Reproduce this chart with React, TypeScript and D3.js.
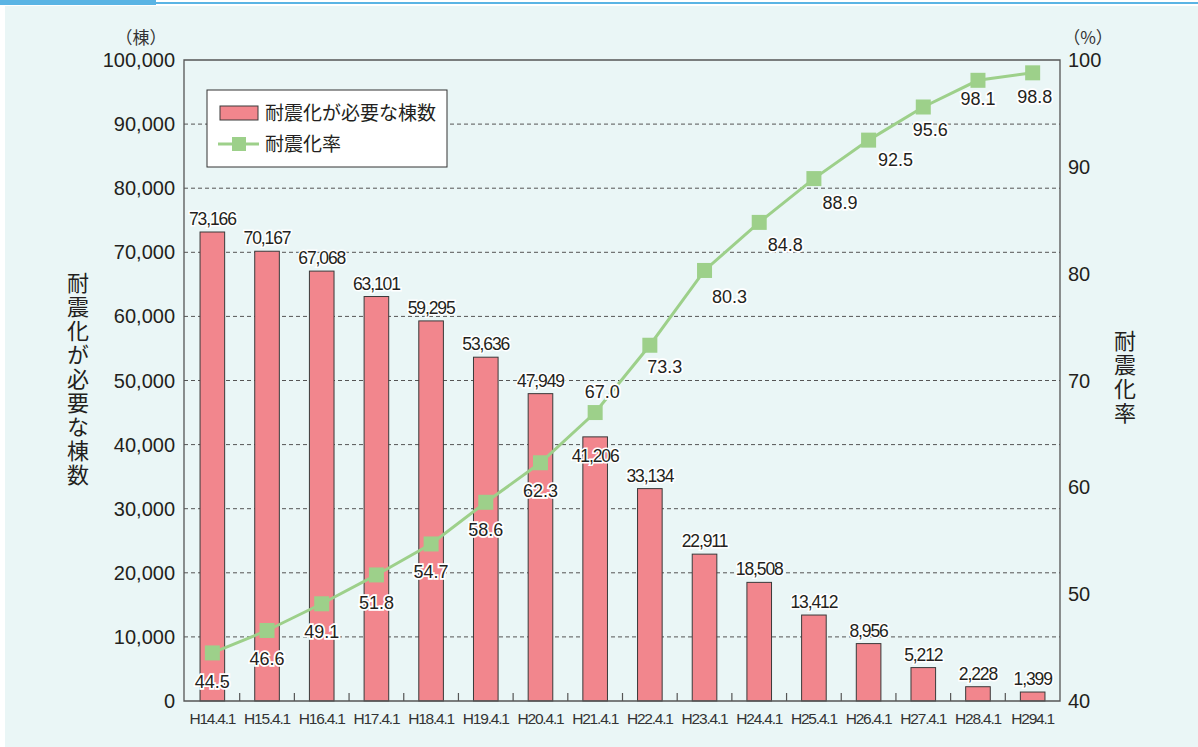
import { useEffect, useRef } from 'react';
import * as d3 from 'd3';

const categories = [
  'H14.4.1', 'H15.4.1', 'H16.4.1', 'H17.4.1', 'H18.4.1', 'H19.4.1', 'H20.4.1', 'H21.4.1',
  'H22.4.1', 'H23.4.1', 'H24.4.1', 'H25.4.1', 'H26.4.1', 'H27.4.1', 'H28.4.1', 'H294.1',
];
const buildingsNeeded = [
  73166, 70167, 67068, 63101, 59295, 53636, 47949, 41206,
  33134, 22911, 18508, 13412, 8956, 5212, 2228, 1399,
];
const seismicRate = [
  44.5, 46.6, 49.1, 51.8, 54.7, 58.6, 62.3, 67.0,
  73.3, 80.3, 84.8, 88.9, 92.5, 95.6, 98.1, 98.8,
];
const leftTicks = [0, 10000, 20000, 30000, 40000, 50000, 60000, 70000, 80000, 90000, 100000];
const rightTicks = [40, 50, 60, 70, 80, 90, 100];

// label nudges (px)
const rateLabelDx = [0, 0, 0, 0, 0, 0, 0, 7, 15, 25, 26, 26, 27, 7, 0, 2];
const rateLabelDy = [29, 29, 28, 28, 28, 28, 28, -21, 22, 27, 23, 24, 20, 23, 19, 24];
const barLabelDy = [-7, -7, -7, -7, -7, -7, -7, 25, -7, -7, -7, -7, -7, -7, -7, -7];

const NUM_FONT = '"Liberation Sans", Arial, sans-serif';
const JP_FONT = '"Noto Sans CJK JP", "Noto Sans", sans-serif';

export default function App() {
  const svgRef = useRef<SVGSVGElement>(null);

  useEffect(() => {
    document.body.style.margin = '0';
    if (!svgRef.current) return;
    const svg = d3.select(svgRef.current);
    svg.selectAll('*').remove();

    const W = 1198;
    const H = 747;
    const left = 184, right = 1060, top = 60, bottom = 701;

    // background + header strip
    svg.append('rect').attr('x', 0).attr('y', 0).attr('width', W).attr('height', H).attr('fill', '#ffffff');
    svg.append('rect').attr('x', 5).attr('y', 6).attr('width', W - 5).attr('height', H - 6).attr('fill', '#eaf6f6');
    svg.append('rect').attr('x', 0).attr('y', 2).attr('width', W).attr('height', 2).attr('fill', '#5ab4e4');
    svg.append('rect').attr('x', 0).attr('y', 0).attr('width', 156).attr('height', 5).attr('fill', '#5ab4e4');

    const x = d3.scaleBand<string>()
      .domain(categories)
      .range([left + 1, right])
      .paddingInner(0.55)
      .paddingOuter(0.275);
    const yL = d3.scaleLinear().domain([0, 100000]).range([bottom, top]);
    const yR = d3.scaleLinear().domain([40, 100]).range([bottom, top]);
    const cx = (i: number) => (x(categories[i]) || 0) + x.bandwidth() / 2;

    // dashed gridlines
    svg.append('g')
      .selectAll('line')
      .data(leftTicks.filter(t => t > 0 && t < 100000))
      .enter()
      .append('line')
      .attr('x1', left).attr('x2', right)
      .attr('y1', d => yL(d)).attr('y2', d => yL(d))
      .attr('stroke', '#555').attr('stroke-width', 1)
      .attr('stroke-dasharray', '4,3');

    // bars
    svg.append('g')
      .selectAll('rect')
      .data(buildingsNeeded)
      .enter()
      .append('rect')
      .attr('x', (_, i) => x(categories[i]) || 0)
      .attr('y', d => yL(d))
      .attr('width', x.bandwidth())
      .attr('height', d => bottom - yL(d))
      .attr('fill', '#f2868d')
      .attr('stroke', '#3a3a3a')
      .attr('stroke-width', 1);

    // frame
    svg.append('path')
      .attr('d', `M${left},${top}H${right}V${bottom}H${left}Z`)
      .attr('fill', 'none').attr('stroke', '#555').attr('stroke-width', 1.3);

    // bottom ticks at band boundaries
    const step = x.step();
    const x0 = x.range()[0];
    svg.append('g')
      .selectAll('line')
      .data(d3.range(1, categories.length))
      .enter()
      .append('line')
      .attr('x1', d => x0 + d * step).attr('x2', d => x0 + d * step)
      .attr('y1', bottom).attr('y2', bottom - 8)
      .attr('stroke', '#555').attr('stroke-width', 1.2);

    // rate line
    const line = d3.line<number>()
      .x((_, i) => cx(i))
      .y(d => yR(d));
    svg.append('path')
      .datum(seismicRate)
      .attr('d', line)
      .attr('fill', 'none')
      .attr('stroke', '#9dd08a')
      .attr('stroke-width', 3);
    const sq = 15;
    svg.append('g')
      .selectAll('rect')
      .data(seismicRate)
      .enter()
      .append('rect')
      .attr('x', (_, i) => cx(i) - sq / 2)
      .attr('y', d => yR(d) - sq / 2)
      .attr('width', sq).attr('height', sq)
      .attr('fill', '#9dd08a');

    // bar value labels
    svg.append('g')
      .selectAll('text')
      .data(buildingsNeeded)
      .enter()
      .append('text')
      .attr('x', (_, i) => cx(i))
      .attr('y', (d, i) => yL(d) + barLabelDy[i])
      .attr('text-anchor', 'middle')
      .attr('font-family', NUM_FONT)
      .attr('font-size', 17.5)
      .attr('letter-spacing', -1.1)
      .attr('fill', '#231f20')
      .attr('stroke', '#fff').attr('stroke-width', 3).attr('paint-order', 'stroke')
      .text(d => d3.format(',')(d));

    svg.append('g')
      .selectAll('text')
      .data(seismicRate)
      .enter()
      .append('text')
      .attr('x', (_, i) => cx(i) + rateLabelDx[i])
      .attr('y', (d, i) => yR(d) + rateLabelDy[i] + 6)
      .attr('text-anchor', 'middle')
      .attr('font-family', NUM_FONT)
      .attr('font-size', 18)
      .attr('fill', '#231f20')
      .attr('stroke', '#fff').attr('stroke-width', 3.5).attr('paint-order', 'stroke')
      .text(d => d.toFixed(1));

    // left axis labels
    svg.append('g')
      .selectAll('text')
      .data(leftTicks)
      .enter()
      .append('text')
      .attr('x', 175)
      .attr('y', d => yL(d) + 7)
      .attr('text-anchor', 'end')
      .attr('font-family', NUM_FONT)
      .attr('font-size', 20)
      .attr('fill', '#231f20')
      .text(d => d3.format(',')(d));

    // right axis labels
    svg.append('g')
      .selectAll('text')
      .data(rightTicks)
      .enter()
      .append('text')
      .attr('x', 1068)
      .attr('y', d => yR(d) + 7)
      .attr('font-family', NUM_FONT)
      .attr('font-size', 20)
      .attr('fill', '#231f20')
      .text(d => String(d));

    // category labels
    svg.append('g')
      .selectAll('text')
      .data(categories)
      .enter()
      .append('text')
      .attr('x', d => (x(d) || 0) + x.bandwidth() / 2)
      .attr('y', 724)
      .attr('text-anchor', 'middle')
      .attr('font-family', NUM_FONT)
      .attr('font-size', 15.5)
      .attr('letter-spacing', -1.2)
      .attr('fill', '#333')
      .text(d => d);

    // units
    svg.append('text')
      .attr('x', 141).attr('y', 44)
      .attr('text-anchor', 'middle')
      .attr('font-family', JP_FONT).attr('font-size', 17).attr('fill', '#333')
      .text('（棟）');
    svg.append('text')
      .attr('x', 1088).attr('y', 44)
      .attr('text-anchor', 'middle')
      .attr('font-family', JP_FONT).attr('font-size', 17).attr('fill', '#333')
      .text('（%）');

    // axis titles (vertical)
    svg.append('text')
      .attr('x', 78).attr('y', 380)
      .attr('text-anchor', 'middle')
      .attr('font-family', JP_FONT).attr('font-size', 22).attr('fill', '#231f20')
      .attr('letter-spacing', 2)
      .style('writing-mode', 'vertical-rl')
      .style('text-orientation', 'upright')
      .text('耐震化が必要な棟数');
    svg.append('text')
      .attr('x', 1125).attr('y', 378)
      .attr('text-anchor', 'middle')
      .attr('font-family', JP_FONT).attr('font-size', 22).attr('fill', '#231f20')
      .attr('letter-spacing', 2)
      .style('writing-mode', 'vertical-rl')
      .style('text-orientation', 'upright')
      .text('耐震化率');

    // legend
    const lg = svg.append('g');
    lg.append('rect')
      .attr('x', 207).attr('y', 90).attr('width', 240).attr('height', 77)
      .attr('fill', '#fff').attr('stroke', '#333').attr('stroke-width', 1);
    lg.append('rect')
      .attr('x', 220).attr('y', 106).attr('width', 38).attr('height', 14)
      .attr('fill', '#f2868d').attr('stroke', '#3a3a3a').attr('stroke-width', 1);
    lg.append('text')
      .attr('x', 265).attr('y', 120)
      .attr('font-family', JP_FONT).attr('font-size', 19).attr('fill', '#231f20')
      .text('耐震化が必要な棟数');
    lg.append('line')
      .attr('x1', 218).attr('x2', 259).attr('y1', 144).attr('y2', 144)
      .attr('stroke', '#9dd08a').attr('stroke-width', 3);
    lg.append('rect')
      .attr('x', 232).attr('y', 137).attr('width', 14).attr('height', 14)
      .attr('fill', '#9dd08a');
    lg.append('text')
      .attr('x', 265).attr('y', 151)
      .attr('font-family', JP_FONT).attr('font-size', 19).attr('fill', '#231f20')
      .text('耐震化率');
  }, []);

  return (
    <div style={{ position: 'absolute', left: 0, top: 0 }}>
      <svg ref={svgRef} width={1198} height={747} style={{ display: 'block' }} />
    </div>
  );
}
